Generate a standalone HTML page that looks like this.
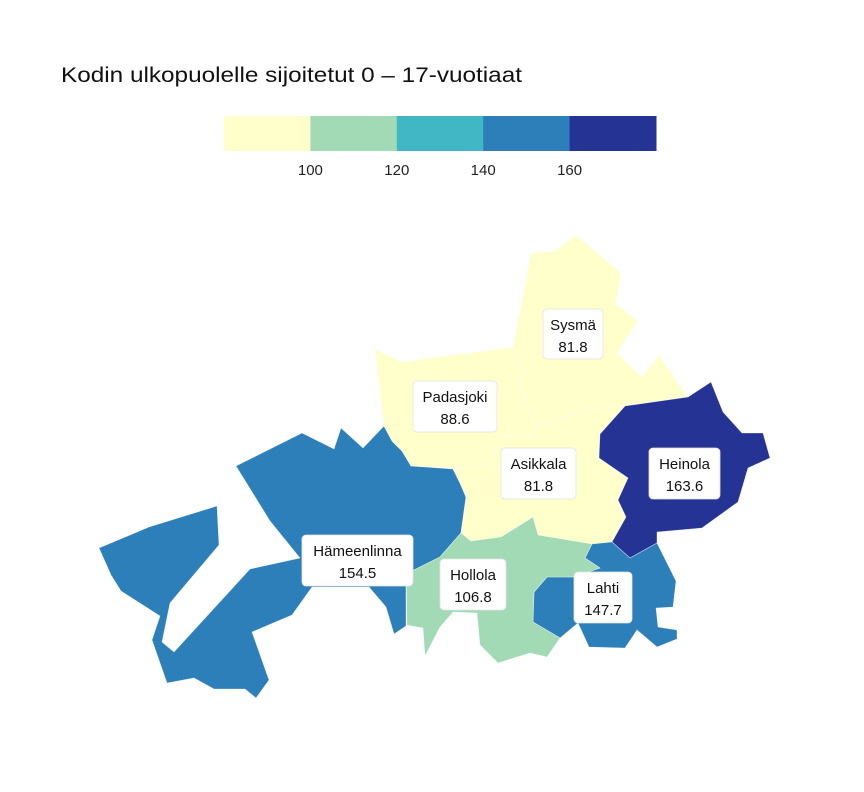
<!DOCTYPE html>
<html><head><meta charset="utf-8"><style>
body{margin:0;background:#fff;}
svg{display:block;font-family:"Liberation Sans",sans-serif;}
</style></head><body>
<svg id="chart" width="864" height="792" viewBox="0 0 864 792">
<text x="61" y="82" font-size="21" fill="#111" textLength="461" lengthAdjust="spacingAndGlyphs">Kodin ulkopuolelle sijoitetut 0 – 17-vuotiaat</text>
<g id="legend"></g>
<g id="regions"></g>
<g id="labels"></g>
</svg>
<script>
const municipalities = ["Hämeenlinna","Padasjoki","Sysmä","Asikkala","Heinola","Lahti","Hollola"];
const values = [154.5, 88.6, 81.8, 81.8, 163.6, 147.7, 106.8];
const thresholds = [100, 120, 140, 160];
const palette = ["#ffffcc","#a1dab4","#41b6c4","#2c7fb8","#253494"];

const shapes = {
"Hämeenlinna":"236,466 302,433 334,449 341,428 363,448 384,426 392,441 402,451 411,466 453,469 460,483 466,497 461,533 440,557 414,570 406,568 406,626 394,634 386,607 369,587 312,587 292,615 252,632 269,680 256,698 245,689 214,689 194,678 167,683 152,640 160,616 121,591 111,575 99,548 149,527 217,506 219,545 170,603 162,642 174,652 250,569 300,558 270,521",
"Padasjoki":"375,349 401,362 513,347 525,373 520,385 537,427 530,438 505,436 487,465 455,468 411,466 402,451 392,441 384,426",
"Sysmä":"513,347 531,253 555,251 576,235 621,273 616,304 638,321 617,353 642,377 659,355 688,397 625,406 585,410 537,427 520,385 525,373",
"Asikkala":"537,427 585,410 625,406 600,434 599,458 628,478 618,500 626,517 612,542 592,544 538,535 533,517 501,537 471,541 461,533 466,497 460,483 453,469 455,468 487,465 505,436 530,438",
"Heinola":"625,406 688,397 711,382 723,412 742,433 763,433 770,458 748,468 738,502 702,528 657,532 657,543 630,558 612,542 626,517 618,500 628,478 599,458 600,434",
"Lahti":"592,544 612,542 630,558 657,543 676,581 673,607 656,608 658,627 677,630 677,639 657,647 637,630 625,648 589,647 578,623 560,638 533,622 534,592 547,577 573,577 600,568 585,558",
"Hollola":"461,533 471,541 501,537 533,517 538,535 592,544 585,558 600,568 573,577 547,577 534,592 533,622 560,638 547,657 530,653 498,663 480,645 477,613 453,612 440,627 425,656 423,628 407,625 406,568 414,570 440,557"
};
const labelBoxes = {
"Hämeenlinna":[302,535,111,51],"Padasjoki":[413,381,84,51],"Sysmä":[543,309,60,50],
"Asikkala":[501,448,75,51],"Heinola":[649,448,71,51],"Lahti":[574,572,58,51],"Hollola":[440,559,66,51]
};

const NS="http://www.w3.org/2000/svg";
function colorFor(v){let i=0;while(i<thresholds.length&&v>=thresholds[i])i++;return palette[i];}
function mk(tag,attrs,parent){const e=document.createElementNS(NS,tag);for(const k in attrs)e.setAttribute(k,attrs[k]);parent.appendChild(e);return e;}

// legend
const lg=document.getElementById('legend');
const lx0=224, lw=86.4, ly=116, lh=35;
palette.forEach((c,i)=>{
  const r=mk('rect',{x:lx0+i*lw,y:ly,width:lw+0.5,height:lh,fill:c},lg);
  
  
});
thresholds.forEach((t,i)=>{
  const tx=mk('text',{x:lx0+(i+1)*lw,y:175,'font-size':15,'text-anchor':'middle',fill:'#222'},lg);
  tx.textContent=t;
  
  
});

// regions
const rg=document.getElementById('regions');
municipalities.forEach((m,i)=>{
  const p=mk('polygon',{points:shapes[m],fill:colorFor(values[i]),stroke:'#ffffff','stroke-width':0.6,'stroke-opacity':0.6},rg);
  
  
});

// labels
const lbg=document.getElementById('labels');
municipalities.forEach((m,i)=>{
  const b=labelBoxes[m];
  const g=mk('g',{},lbg);
  
  
  mk('rect',{x:b[0],y:b[1],width:b[2],height:b[3],rx:4,fill:'#fff',stroke:'#e4e4e4','stroke-width':0.8},g);
  const cx=b[0]+b[2]/2;
  const t1=mk('text',{x:cx,y:b[1]+21,'font-size':15,'text-anchor':'middle',fill:'#111'},g);
  t1.textContent=m;
  const t2=mk('text',{x:cx,y:b[1]+43,'font-size':15,'text-anchor':'middle',fill:'#111'},g);
  t2.textContent=values[i].toFixed(1);
});
</script>
</body></html>
